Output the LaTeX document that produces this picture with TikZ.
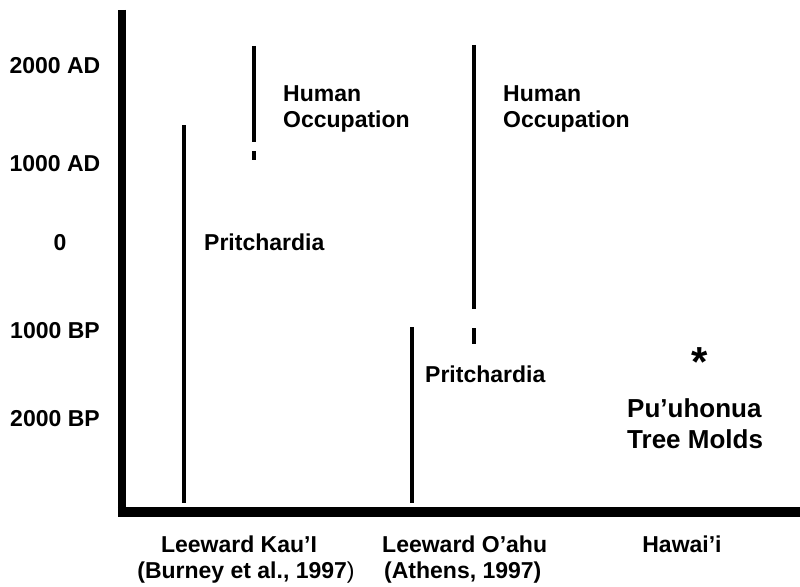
\documentclass[tikz,border=0pt]{standalone}
\usepackage{fontspec}
\setmainfont{Liberation Sans}
\begin{document}
\begin{tikzpicture}[x=1pt,y=-1pt,
  axisline/.style={line width=8.5pt,line cap=butt},
  bar/.style={line width=4pt,line cap=butt},
  lbl/.style={font=\fontsize{23}{26}\selectfont\bfseries,inner sep=0pt},
  biglbl/.style={font=\fontsize{26}{31}\selectfont\bfseries,inner sep=0pt}]
\useasboundingbox (0,0) rectangle (800,586);
% axes
\draw[axisline] (122,10) -- (122,516.5);
\draw[line width=9.5pt] (117.75,512) -- (800,512);
% Kauai
\draw[bar] (184,125) -- (184,503);
\draw[bar] (254,46) -- (254,142);
\draw[bar] (254,151) -- (254,160);
% Oahu
\draw[bar] (474,45) -- (474,309);
\draw[bar] (474,328) -- (474,344);
\draw[bar] (412,327) -- (412,503);
% y labels
\node[lbl,anchor=base] (y1) at (55,74) {2000 AD};
\node[lbl,anchor=base] (y2) at (55,171) {1000 AD};
\node[lbl,anchor=base] (y3) at (60,250) {0};
\node[lbl,anchor=base] (y4) at (55,338) {1000 BP};
\node[lbl,anchor=base] (y5) at (55,426) {2000 BP};
% texts
\node[lbl,anchor=base west] (hk1) at (283,101) {Human};
\node[lbl,anchor=base west] (hk2) at (283,127) {Occupation};
\node[lbl,anchor=base west] (ho1) at (503,101) {Human};
\node[lbl,anchor=base west] (ho2) at (503,127) {Occupation};
\node[lbl,anchor=base west] (pk) at (204,250) {Pritchardia};
\node[lbl,anchor=base west] (po) at (425,382) {Pritchardia};
\node[font=\fontsize{42}{42}\selectfont\bfseries,inner sep=0pt,anchor=base] (ast) at (700,376) {*};
\node[biglbl,anchor=base west] (pu1) at (627,417) {Pu’uhonua};
\node[biglbl,anchor=base west] (pu2) at (627,448) {Tree Molds};
% x labels
\node[lbl,anchor=base] (xk1) at (239,552) {Leeward Kau’I};
\node[lbl,anchor=base] (xk2) at (246,578) {(Burney et al., 1997\textmd{)}};
\node[lbl,anchor=base west] (xo1) at (382,552) {Leeward O’ahu};
\node[lbl,anchor=base west] (xo2) at (384,578) {(Athens, 1997)};
\node[lbl,anchor=base] (xh) at (682,552) {Hawai’i};
\end{tikzpicture}
\end{document}
